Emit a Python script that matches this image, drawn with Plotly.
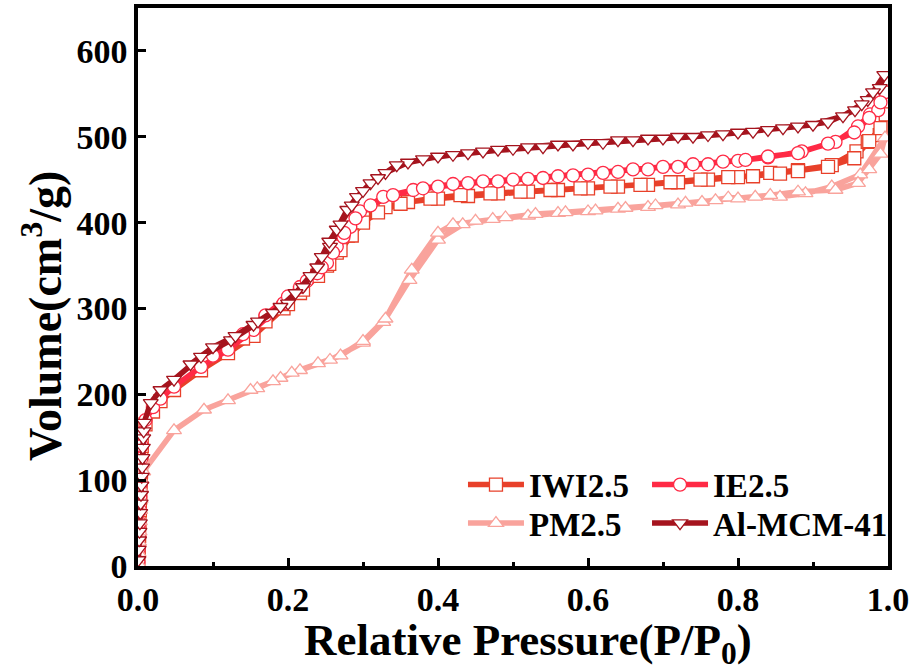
import plotly.graph_objects as go

# ---------------- data ----------------
iwi_p = [0.0005, 0.001, 0.0015, 0.002, 0.0025, 0.003, 0.0035, 0.004, 0.0045, 0.005,
         0.01, 0.02, 0.03, 0.048, 0.084, 0.12, 0.154, 0.194, 0.216, 0.239, 0.252, 0.265,
         0.28, 0.30, 0.33, 0.36, 0.40, 0.44, 0.48, 0.52, 0.56, 0.60, 0.64, 0.68, 0.72,
         0.76, 0.80, 0.843, 0.88, 0.925, 0.958, 0.973, 0.989, 0.997,
         0.99, 0.975, 0.955, 0.92, 0.88, 0.856, 0.82, 0.787, 0.75, 0.71, 0.67, 0.63,
         0.59, 0.55, 0.51, 0.47, 0.43, 0.39, 0.35, 0.32, 0.30, 0.285, 0.27, 0.255,
         0.24, 0.22, 0.20, 0.17, 0.14]
iwi_v = [5, 20, 35, 50, 65, 80, 95, 110, 125, 140,
         165, 180, 192, 205, 228, 248, 268, 300, 318, 338, 350, 365,
         385, 405, 418, 424, 428, 431, 434, 436, 438, 440, 442, 444, 447,
         450, 453, 458, 461, 467, 483, 494, 502, 526,
         510, 495, 475, 465, 460, 457, 454, 453, 450, 447, 444, 442,
         440, 438, 436, 434, 432, 428, 422, 412, 400, 385, 368, 352,
         338, 322, 305, 285, 265]

ie_p = [0.0005, 0.001, 0.0015, 0.002, 0.0025, 0.003, 0.0035, 0.004, 0.0045, 0.005, 0.0055,
        0.01, 0.02, 0.03, 0.048, 0.084, 0.12, 0.154, 0.194, 0.216, 0.239, 0.252, 0.265,
        0.274, 0.283, 0.296, 0.327, 0.367, 0.40, 0.44, 0.48, 0.52, 0.56, 0.60, 0.64,
        0.68, 0.72, 0.76, 0.80, 0.84, 0.885, 0.93, 0.96, 0.976, 0.987, 0.996,
        0.99, 0.975, 0.955, 0.92, 0.88, 0.84, 0.81, 0.78, 0.74, 0.70, 0.66, 0.62,
        0.58, 0.54, 0.50, 0.46, 0.42, 0.38, 0.34, 0.31, 0.29, 0.275, 0.26, 0.245,
        0.225, 0.20, 0.17, 0.14, 0.10]
ie_v = [5, 20, 35, 50, 65, 80, 95, 110, 125, 140, 155,
        170, 185, 195, 209, 232, 252, 275, 306, 325, 341, 353, 372,
        383, 395, 413, 430, 438, 442, 446, 448, 451, 454, 456, 459,
        462, 465, 468, 472, 476, 483, 494, 512, 526, 531, 552,
        540, 522, 505, 492, 481, 477, 473, 471, 468, 465, 462, 458,
        455, 452, 450, 448, 445, 440, 432, 420, 405, 388, 365, 348,
        332, 314, 292, 270, 245]

pm_p = [0.0005, 0.001, 0.0015, 0.002, 0.0025, 0.003, 0.0035, 0.004, 0.0045,
        0.007, 0.048, 0.088, 0.12, 0.159, 0.19, 0.216, 0.256, 0.30, 0.327, 0.362,
        0.40, 0.433, 0.473, 0.52, 0.56, 0.60, 0.64, 0.68, 0.72, 0.752, 0.787, 0.823,
        0.856, 0.89, 0.925, 0.963, 0.996,
        0.99, 0.975, 0.96, 0.93, 0.88, 0.843, 0.80, 0.77, 0.73, 0.69, 0.65, 0.61,
        0.57, 0.53, 0.49, 0.45, 0.42, 0.40, 0.365, 0.33, 0.30, 0.27, 0.24, 0.205,
        0.18, 0.15]
pm_v = [3, 15, 28, 40, 52, 65, 78, 90, 100,
        110, 158, 182, 193, 207, 219, 228, 240, 260, 284, 333,
        380, 398, 404, 408, 411, 413, 416, 418, 421, 424, 429, 430,
        430, 434, 442, 456, 499,
        480, 462, 446, 438, 436, 432, 428, 426, 423, 420, 417, 414,
        412, 410, 406, 402, 398, 388, 345, 288, 262, 245, 236, 225,
        215, 205]

mcm_p = [0.0005, 0.001, 0.0015, 0.002, 0.0025, 0.003, 0.0035, 0.004, 0.0045, 0.005,
         0.0055, 0.006, 0.0065, 0.007, 0.0075, 0.008,
         0.017, 0.03, 0.048, 0.084, 0.124, 0.154, 0.18, 0.20, 0.22, 0.239, 0.256,
         0.265, 0.279, 0.292, 0.31, 0.33, 0.36, 0.40, 0.44, 0.48, 0.52, 0.56, 0.60,
         0.64, 0.68, 0.72, 0.76, 0.80, 0.84, 0.88, 0.92, 0.956, 0.973, 0.989, 0.995,
         0.98, 0.965, 0.94, 0.90, 0.86, 0.82, 0.78, 0.74, 0.70, 0.66, 0.62, 0.58,
         0.54, 0.50, 0.46, 0.42, 0.38, 0.345, 0.32, 0.30, 0.285, 0.27, 0.255, 0.245,
         0.23, 0.21, 0.19, 0.16, 0.13, 0.10, 0.07]
mcm_v = [7, 19, 30, 40, 50, 62, 73, 83, 94, 104,
         115, 126, 138, 149, 157, 167,
         190, 205, 217, 244, 263, 281, 295, 306, 325, 348, 372,
         392, 415, 430, 446, 458, 470, 477, 481, 485, 488, 491, 493,
         496, 498, 500, 502, 505, 508, 512, 517, 531, 543, 557, 572,
         552, 538, 524, 514, 510, 506, 503, 500, 498, 496, 493, 491,
         488, 486, 483, 479, 474, 467, 452, 437, 420, 398, 378, 360,
         338, 318, 302, 285, 268, 255, 235]

names = ["IWI2.5", "IE2.5", "PM2.5", "Al-MCM-41"]
colors = ["#E8402A", "#FF2A45", "#F9A39C", "#A5141E"]
symbols = ["square", "circle", "triangle-up", "triangle-down"]
legend_ids = ["legend", "legend2", "legend3", "legend4"]
xs = [iwi_p, ie_p, pm_p, mcm_p]
ys = [iwi_v, ie_v, pm_v, mcm_v]

x_tickvals = [0, 0.2, 0.4, 0.6, 0.8, 1.0]
x_ticktext = ["0.0", "0.2", "0.4", "0.6", "0.8", "1.0"]
y_tickvals = [0, 100, 200, 300, 400, 500, 600]

FONT = "Liberation Serif, Times New Roman, serif"

fig = go.Figure()
for name, c, s, lg, x, y in zip(names, colors, symbols, legend_ids, xs, ys):
    fig.add_trace(go.Scatter(
        x=x, y=y, name=name, mode="lines+markers", legend=lg,
        line=dict(color=c, width=5.5),
        marker=dict(symbol=s, size=13, color="white",
                    line=dict(color=c, width=1.3)),
    ))

axis_common = dict(
    showline=True, linecolor="black", linewidth=3.5, mirror=True,
    ticks="inside", tickcolor="black", tickwidth=3, ticklen=8,
    showgrid=False, zeroline=False,
    tickfont=dict(family=FONT, size=34, color="black", weight="bold"),
)

legend_common = dict(orientation="h", xanchor="left", yanchor="top",
                     bgcolor="rgba(0,0,0,0)",
                     font=dict(family=FONT, size=33, color="black", weight="bold"),
                     itemwidth=56)

fig.update_layout(
    width=920, height=672,
    paper_bgcolor="white", plot_bgcolor="white",
    margin=dict(l=138, r=32, t=8, b=106, autoexpand=False),
    font=dict(family=FONT, color="black"),
    xaxis=dict(range=[0, 1.0], tickvals=x_tickvals, ticktext=x_ticktext,
               minor=dict(ticks="inside", dtick=0.1, ticklen=4, tickwidth=3, tickcolor="black"),
               **axis_common),
    yaxis=dict(range=[0, 650], tickvals=y_tickvals, **axis_common),
    legend=dict(x=0.4333, y=0.196, **legend_common),
    legend2=dict(x=0.6787, y=0.196, **legend_common),
    legend3=dict(x=0.4333, y=0.127, **legend_common),
    legend4=dict(x=0.6787, y=0.127, **legend_common),
    showlegend=True,
    annotations=[
        dict(text="Relative Pressure(P/P<sub>0</sub>)", xref="paper", yref="paper",
             x=0.52, y=-0.138, xanchor="center", yanchor="middle", showarrow=False,
             font=dict(family=FONT, size=45, color="black", weight="bold")),
        dict(text="Volume(cm<sup>3</sup>/g)", xref="paper", yref="paper",
             x=-0.128, y=0.448, xanchor="center", yanchor="middle", showarrow=False,
             textangle=-90,
             font=dict(family=FONT, size=46, color="black", weight="bold")),
    ],
)

fig.write_html("out.html", config={"displayModeBar": False},
               post_script="document.body.style.margin='0';")
